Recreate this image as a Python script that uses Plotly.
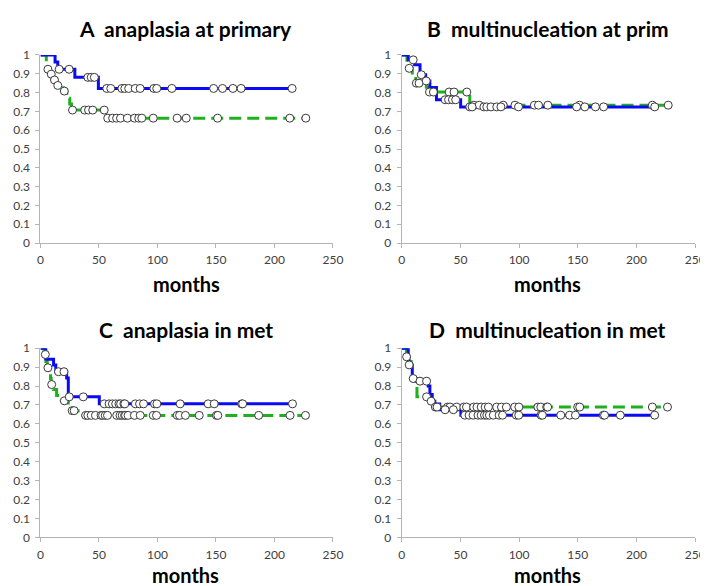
import plotly.graph_objects as go

# ---------------- data (months, survival) ----------------
# Panel A: anaplasia at primary
A_blue_event_t = [12.5, 14.8, 29.4, 49.5]
A_blue_event_s = [0.963, 0.924, 0.881, 0.822]
A_blue_cens = [16, 24.5, 40.5, 43.4, 46.1, 56.7, 60.1, 69.6, 72.1, 75.4, 81, 85.2,
               96.9, 99.4, 112.3, 148, 155.6, 164.5, 171.5, 215.1]
A_green_event_t = [5, 6, 8.5, 11, 13.5, 19.5, 22.5, 25, 26.5, 57]
A_green_event_s = [0.962, 0.924, 0.898, 0.867, 0.838, 0.808, 0.77, 0.74, 0.707, 0.664]
A_green_cens = [6.4, 9.2, 12, 14.8, 20.4, 27.4, 37.8, 41.1, 44.7, 54.5, 57.5, 61.7,
                65.1, 68.4, 74.3, 80.4, 84, 86.6, 96.4, 116.8, 124.6, 151.4, 213.1, 226.8]

# Panel B: multinucleation at prim
B_blue_event_t = [5.6, 11, 15.6, 20.4, 24, 29.6, 50.2]
B_blue_event_s = [0.974, 0.948, 0.895, 0.862, 0.827, 0.762, 0.724]
B_blue_cens = [9.8, 16.7, 20.9, 37, 39.9, 43.2, 46, 58, 60, 70, 72.5, 76, 81, 84.5,
               99.5, 149, 156, 165, 172, 215.5]
B_green_event_t = [4.5, 6, 9, 12, 21, 23, 58]
B_green_event_s = [0.962, 0.929, 0.889, 0.85, 0.829, 0.803, 0.733]
B_green_cens = [6.4, 12.5, 14.8, 23.7, 27, 40.4, 44.6, 55.5, 61.5, 66, 86.5, 96.5,
                113, 116.5, 124.5, 151.5, 213.5, 227]

# Panel C: anaplasia in met
C_blue_event_t = [4.5, 11.2, 13.1, 22.4, 23.8, 50.3]
C_blue_event_s = [0.942, 0.912, 0.876, 0.843, 0.743, 0.706]
C_blue_cens = [15.4, 20.1, 24.6, 36.6, 54.5, 58.7, 61.5, 64.3, 67.1, 68.5, 71.3, 72.1,
               81.1, 84.7, 88.1, 97.5, 99.5, 119.4, 143.3, 148.5, 172, 172.8, 215.4]
C_green_event_t = [3, 4.6, 5.8, 7.5, 8.6, 9.2, 11, 13.8, 16.5, 23.8, 26, 32.2]
C_green_event_s = [0.967, 0.93, 0.897, 0.87, 0.84, 0.808, 0.782, 0.75, 0.722, 0.70, 0.67, 0.645]
C_green_cens = [4.2, 6.4, 9.6, 20.4, 27.1, 28.8, 38.6, 40.5, 43.4, 47, 51.8, 53.1, 55.4,
                57.3, 65.2, 68, 69.9, 71.9, 72.7, 74.9, 80.3, 85.3, 96.4, 99.2, 116.9,
                118.9, 123.9, 135.7, 150.4, 151.6, 186.5, 213.3, 226.5]

# Panel D: multinucleation in met
D_blue_event_t = [5.6, 6.2, 9, 11.5, 22.6, 24, 26, 28.2, 32.4, 50.4]
D_blue_event_s = [0.955, 0.912, 0.84, 0.826, 0.8, 0.756, 0.72, 0.705, 0.675, 0.646]
D_blue_cens = [6.4, 9.8, 15.6, 21.2, 37, 44, 53.8, 57.4, 60.8, 65, 67.7, 70.5, 72.5,
               74.7, 78, 83, 85.9, 97.6, 99.7, 118.7, 119.8, 135.5, 143, 148, 171.7,
               172.8, 186.2, 215.5]
D_green_event_t = [4.0, 5.6, 8, 9.2, 12.5, 13, 24.5, 28]
D_green_event_s = [0.955, 0.93, 0.88, 0.84, 0.80, 0.743, 0.72, 0.689]
D_green_cens = [4.2, 21.2, 25.1, 28.7, 30.1, 39, 41.2, 46.8, 52.9, 55.2, 61.3, 64.1,
                67.7, 71.1, 73.9, 80.9, 85, 89.2, 96.2, 99.8, 116, 118.5, 123.5, 124.3,
                149.9, 151.6, 213.5, 226.4]

titles = ["A\u00a0\u00a0anaplasia at primary", "B\u00a0\u00a0multinucleation at prim",
          "C\u00a0\u00a0anaplasia in met", "D\u00a0\u00a0multinucleation in met"]
x_title = "months"
x_ticks = [0, 50, 100, 150, 200, 250]
y_ticks = [0, 0.1, 0.2, 0.3, 0.4, 0.5, 0.6, 0.7, 0.8, 0.9, 1]

panels = [
    (A_blue_event_t, A_blue_event_s, A_blue_cens, A_green_event_t, A_green_event_s, A_green_cens),
    (B_blue_event_t, B_blue_event_s, B_blue_cens, B_green_event_t, B_green_event_s, B_green_cens),
    (C_blue_event_t, C_blue_event_s, C_blue_cens, C_green_event_t, C_green_event_s, C_green_cens),
    (D_blue_event_t, D_blue_event_s, D_blue_cens, D_green_event_t, D_green_event_s, D_green_cens),
]

# ---------------- layout geometry (pixels) ----------------
W, H = 708, 586
# (left, right, top, bottom) of each plot area in px
boxes = [(30, 328, 40, 233), (398, 697, 40, 233), (30, 328, 341, 535), (398, 697, 341, 535)]
title_pos = [(178, 13), (547, 13), (178, 322), (547, 322)]
months_pos = [(179, 275), (547, 275), (178, 574), (547, 574)]

BLUE = "#0a0af5"
GREEN = "#1eb01e"
FONT = "Lato"


def km_curve(ts, ss, end):
    xs = [0] + list(ts) + [end]
    ys = [1] + list(ss) + [ss[-1]]
    return xs, ys


def surv_at(ts, ss, t):
    v = 1.0
    for ti, si in zip(ts, ss):
        if ti <= t:
            v = si
    return v


fig = go.Figure()
layout_axes = {}
for i, (bt, bs, bc, gt, gs, gc) in enumerate(panels):
    n = "" if i == 0 else str(i + 1)
    xa, ya = "x" + n, "y" + n
    gx, gy = km_curve(gt, gs, max(gc))
    fig.add_trace(go.Scatter(x=gx, y=gy, mode="lines", line_shape="hv", xaxis=xa, yaxis=ya,
                             line=dict(color=GREEN, width=3, dash="12px,6px"),
                             cliponaxis=False, showlegend=False, hoverinfo="skip"))
    bx, by = km_curve(bt, bs, max(bc))
    fig.add_trace(go.Scatter(x=bx, y=by, mode="lines", line_shape="hv", xaxis=xa, yaxis=ya,
                             line=dict(color=BLUE, width=3),
                             cliponaxis=False, showlegend=False, hoverinfo="skip"))
    fig.add_trace(go.Scatter(x=gc, y=[surv_at(gt, gs, t) for t in gc], mode="markers",
                             xaxis=xa, yaxis=ya, cliponaxis=False, showlegend=False,
                             marker=dict(symbol="circle", size=8, color="white",
                                         line=dict(color="#3a3a3a", width=1))))
    fig.add_trace(go.Scatter(x=bc, y=[surv_at(bt, bs, t) for t in bc], mode="markers",
                             xaxis=xa, yaxis=ya, cliponaxis=False, showlegend=False,
                             marker=dict(symbol="circle", size=8, color="white",
                                         line=dict(color="#3a3a3a", width=1))))

    l, r, t, b = boxes[i]
    common = dict(showgrid=False, zeroline=False, showline=True, linecolor="#b4b4b4",
                  linewidth=1, ticks="outside", ticklen=4, tickcolor="#b4b4b4",
                  tickfont=dict(family=FONT, size=12, color="#404040"))
    layout_axes["xaxis" + n] = dict(domain=[l / W, r / W], anchor=ya, range=[0, 250],
                                    tickvals=x_ticks, ticklabelstandoff=2, **common)
    layout_axes["yaxis" + n] = dict(domain=[1 - b / H, 1 - t / H], anchor=xa, range=[0, 1],
                                    tickvals=y_ticks, ticklabelstandoff=3, **common)

annotations = []
for i in range(4):
    tx, ty = title_pos[i]
    annotations.append(dict(text="<b>" + titles[i] + "</b>", x=tx / W, y=1 - ty / H,
                            xref="paper", yref="paper", xanchor="center", yanchor="middle",
                            showarrow=False, font=dict(family=FONT, size=21, color="black")))
    mx, my = months_pos[i]
    annotations.append(dict(text="<b>" + x_title + "</b>", x=mx / W, y=1 - my / H,
                            xref="paper", yref="paper", xanchor="center", yanchor="middle",
                            showarrow=False, font=dict(family=FONT, size=20, color="black")))

fig.update_layout(width=W, height=H, margin=dict(l=0, r=0, t=0, b=0),
                  paper_bgcolor="white", plot_bgcolor="white",
                  annotations=annotations, **layout_axes)

fig.write_html("out.html")
